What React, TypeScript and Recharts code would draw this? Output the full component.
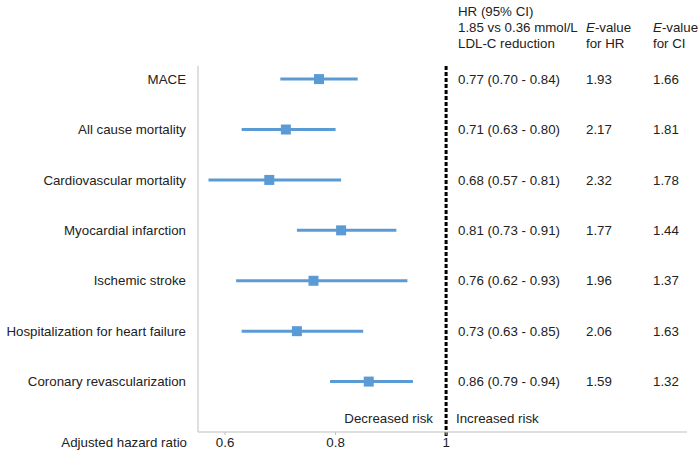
import React from 'react';
import { ScatterChart, Scatter, XAxis, YAxis, ErrorBar, ReferenceLine } from 'recharts';

const outcomes = [
  'MACE',
  'All cause mortality',
  'Cardiovascular mortality',
  'Myocardial infarction',
  'Ischemic stroke',
  'Hospitalization for heart failure',
  'Coronary revascularization',
];
const hr = [0.77, 0.71, 0.68, 0.81, 0.76, 0.73, 0.86];
const ciLow = [0.7, 0.63, 0.57, 0.73, 0.62, 0.63, 0.79];
const ciHigh = [0.84, 0.8, 0.81, 0.91, 0.93, 0.85, 0.94];
const eValueHR = ['1.93', '2.17', '2.32', '1.77', '1.96', '2.06', '1.59'];
const eValueCI = ['1.66', '1.81', '1.78', '1.44', '1.37', '1.63', '1.32'];
const xTicks = [0.6, 0.8, 1];
const rowTicks = outcomes.map((_, i) => i);

const data = outcomes.map((name, i) => ({
  name,
  idx: i,
  hr: hr[i],
  err: [hr[i] - ciLow[i], ciHigh[i] - hr[i]],
}));

const FONT = '"Liberation Sans", Arial, sans-serif';
const FS = 13.3;
const TXT = '#222';
const BLUE = '#5B9BD5';
const AXIS = '#BFBFBF';

const fmt = (v: number) => v.toFixed(2);

const RowTick = (props: any) => {
  const { x, y, payload } = props;
  const i = payload.value as number;
  const common = { fontFamily: FONT, fontSize: FS, fill: TXT, dy: '0.35em' } as any;
  return (
    <g>
      <text x={x} y={y} textAnchor="end" {...common}>{outcomes[i]}</text>
      <text x={458} y={y} textAnchor="start" {...common}>
        {`${fmt(hr[i])} (${fmt(ciLow[i])} - ${fmt(ciHigh[i])})`}
      </text>
      <text x={586} y={y} textAnchor="start" {...common}>{eValueHR[i]}</text>
      <text x={653} y={y} textAnchor="start" {...common}>{eValueCI[i]}</text>
    </g>
  );
};

const SquareShape = (props: any) => {
  const { cx, cy } = props;
  return <rect x={cx - 5} y={cy - 5} width={10} height={10} fill={BLUE} />;
};

const textStyle: React.CSSProperties = {
  position: 'absolute',
  fontFamily: FONT,
  fontSize: FS,
  color: TXT,
  lineHeight: '16px',
  whiteSpace: 'nowrap',
};

export default function App() {
  return (
    <div style={{ position: 'absolute', left: 0, top: 0, width: 700, height: 456, background: '#fff' }}>
      <ScatterChart width={700} height={456} margin={{ top: 66, right: 13, bottom: 0, left: 0 }}>
        <XAxis
          type="number"
          dataKey="hr"
          domain={[0.551, 1.436]}
          allowDataOverflow
          ticks={xTicks}
          tickFormatter={(v: number) => String(v)}
          height={24}
          axisLine={{ stroke: AXIS }}
          tickLine={{ stroke: AXIS }}
          tickSize={3}
          tickMargin={3}
          tick={{ fontFamily: FONT, fontSize: FS, fill: TXT }}
        />
        <YAxis
          type="number"
          dataKey="idx"
          domain={[-0.26, 7]}
          reversed
          ticks={rowTicks}
          interval={0}
          width={198}
          axisLine={{ stroke: AXIS }}
          tickLine={false}
          tickSize={0}
          tickMargin={12}
          tick={<RowTick />}
        />
        <ReferenceLine
          segment={[{ x: 1, y: -0.26 }, { x: 1, y: 7.08 }]}
          ifOverflow="visible"
          stroke="#000"
          strokeWidth={3}
          strokeDasharray="4 2"
        />
        <Scatter data={data} isAnimationActive={false} shape={<SquareShape />}>
          <ErrorBar dataKey="err" direction="x" width={0} stroke={BLUE} strokeWidth={3} />
        </Scatter>
      </ScatterChart>

      <div style={{ ...textStyle, left: 458, top: 4 }}>
        HR (95% CI)
        <br />
        1.85 vs 0.36 mmol/L
        <br />
        LDL-C reduction
      </div>
      <div style={{ ...textStyle, left: 586, top: 20 }}>
        <i>E</i>-value
        <br />
        for HR
      </div>
      <div style={{ ...textStyle, left: 653, top: 20 }}>
        <i>E</i>-value
        <br />
        for CI
      </div>
      <div style={{ ...textStyle, right: 267, top: 411 }}>Decreased risk</div>
      <div style={{ ...textStyle, left: 456, top: 411 }}>Increased risk</div>
      <div style={{ ...textStyle, right: 513, top: 435 }}>Adjusted hazard ratio</div>
    </div>
  );
}
